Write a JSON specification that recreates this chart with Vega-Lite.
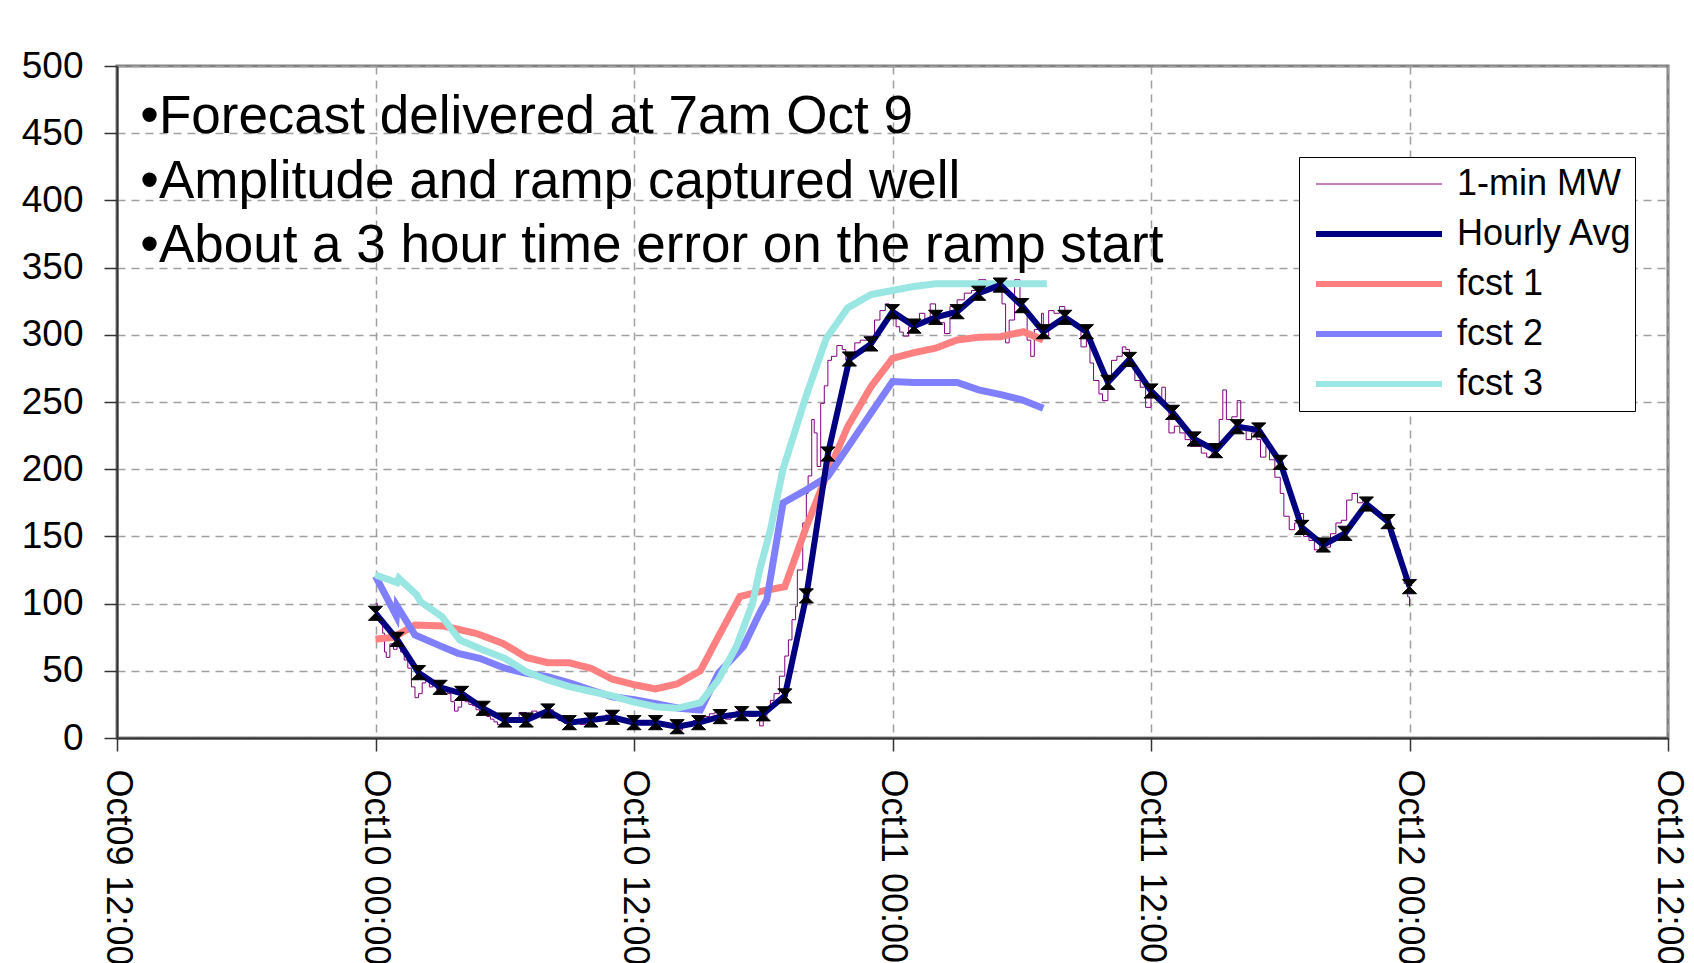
{
  "$schema": "https://vega.github.io/schema/vega-lite/v6.json",
  "autosize": {"type": "none"},
  "width": 1551,
  "height": 672,
  "padding": {"left": 117, "top": 66, "right": 26, "bottom": 225},
  "background": "white",
  "config": {
    "font": "Liberation Sans",
    "view": {"stroke": "#808080", "strokeWidth": 3},
    "axis": {
      "labelFont": "Liberation Sans",
      "labelColor": "black",
      "labelFontSize": 37,
      "labelLimit": 1000,
      "tickSize": 13,
      "tickColor": "#333333",
      "tickWidth": 1.5,
      "domainColor": "#333333",
      "domainWidth": 2,
      "grid": true,
      "gridDash": [8, 6],
      "gridColor": "#A0A0A0",
      "gridWidth": 1.5,
      "title": null
    },
    "legend": {"title": null}
  },
  "datasets": {
    "minute": [
      {"t": "2008-10-10T00:00Z", "v": 100}, {"t": "2008-10-10T00:05Z", "v": 92}, {"t": "2008-10-10T00:10Z", "v": 86},
      {"t": "2008-10-10T00:20Z", "v": 78}, {"t": "2008-10-10T00:25Z", "v": 64}, {"t": "2008-10-10T00:30Z", "v": 60},
      {"t": "2008-10-10T00:40Z", "v": 70}, {"t": "2008-10-10T00:50Z", "v": 66}, {"t": "2008-10-10T01:00Z", "v": 72},
      {"t": "2008-10-10T01:10Z", "v": 64}, {"t": "2008-10-10T01:20Z", "v": 58}, {"t": "2008-10-10T01:30Z", "v": 52},
      {"t": "2008-10-10T01:40Z", "v": 38}, {"t": "2008-10-10T01:50Z", "v": 30}, {"t": "2008-10-10T02:00Z", "v": 33},
      {"t": "2008-10-10T02:10Z", "v": 41}, {"t": "2008-10-10T02:20Z", "v": 44}, {"t": "2008-10-10T02:30Z", "v": 38},
      {"t": "2008-10-10T02:40Z", "v": 40}, {"t": "2008-10-10T02:50Z", "v": 36}, {"t": "2008-10-10T03:00Z", "v": 36},
      {"t": "2008-10-10T03:10Z", "v": 38}, {"t": "2008-10-10T03:20Z", "v": 33}, {"t": "2008-10-10T03:30Z", "v": 27},
      {"t": "2008-10-10T03:40Z", "v": 20}, {"t": "2008-10-10T03:50Z", "v": 23}, {"t": "2008-10-10T04:00Z", "v": 30},
      {"t": "2008-10-10T04:10Z", "v": 27}, {"t": "2008-10-10T04:20Z", "v": 25}, {"t": "2008-10-10T04:30Z", "v": 24},
      {"t": "2008-10-10T04:40Z", "v": 21}, {"t": "2008-10-10T04:50Z", "v": 17}, {"t": "2008-10-10T05:00Z", "v": 20},
      {"t": "2008-10-10T05:10Z", "v": 16}, {"t": "2008-10-10T05:20Z", "v": 14}, {"t": "2008-10-10T05:30Z", "v": 12},
      {"t": "2008-10-10T05:40Z", "v": 10}, {"t": "2008-10-10T05:50Z", "v": 11}, {"t": "2008-10-10T06:00Z", "v": 12},
      {"t": "2008-10-10T06:20Z", "v": 15}, {"t": "2008-10-10T06:40Z", "v": 19}, {"t": "2008-10-10T07:00Z", "v": 15},
      {"t": "2008-10-10T07:15Z", "v": 20}, {"t": "2008-10-10T07:30Z", "v": 18}, {"t": "2008-10-10T07:45Z", "v": 17},
      {"t": "2008-10-10T08:00Z", "v": 21}, {"t": "2008-10-10T08:15Z", "v": 16}, {"t": "2008-10-10T08:30Z", "v": 13},
      {"t": "2008-10-10T08:45Z", "v": 11}, {"t": "2008-10-10T09:00Z", "v": 10}, {"t": "2008-10-10T09:15Z", "v": 12},
      {"t": "2008-10-10T09:30Z", "v": 10}, {"t": "2008-10-10T09:45Z", "v": 12}, {"t": "2008-10-10T10:00Z", "v": 14},
      {"t": "2008-10-10T10:20Z", "v": 13}, {"t": "2008-10-10T10:40Z", "v": 17}, {"t": "2008-10-10T11:00Z", "v": 16},
      {"t": "2008-10-10T11:20Z", "v": 13}, {"t": "2008-10-10T11:40Z", "v": 12}, {"t": "2008-10-10T12:00Z", "v": 10},
      {"t": "2008-10-10T12:20Z", "v": 12}, {"t": "2008-10-10T12:40Z", "v": 11}, {"t": "2008-10-10T13:00Z", "v": 9},
      {"t": "2008-10-10T13:20Z", "v": 10}, {"t": "2008-10-10T13:40Z", "v": 8}, {"t": "2008-10-10T14:00Z", "v": 6},
      {"t": "2008-10-10T14:15Z", "v": 9}, {"t": "2008-10-10T14:30Z", "v": 11}, {"t": "2008-10-10T14:45Z", "v": 13},
      {"t": "2008-10-10T15:00Z", "v": 14}, {"t": "2008-10-10T15:15Z", "v": 16}, {"t": "2008-10-10T15:30Z", "v": 18},
      {"t": "2008-10-10T15:45Z", "v": 19}, {"t": "2008-10-10T16:00Z", "v": 16}, {"t": "2008-10-10T16:15Z", "v": 14},
      {"t": "2008-10-10T16:30Z", "v": 18}, {"t": "2008-10-10T16:45Z", "v": 20}, {"t": "2008-10-10T17:00Z", "v": 19},
      {"t": "2008-10-10T17:20Z", "v": 16}, {"t": "2008-10-10T17:40Z", "v": 18}, {"t": "2008-10-10T17:50Z", "v": 9},
      {"t": "2008-10-10T18:00Z", "v": 14}, {"t": "2008-10-10T18:10Z", "v": 22}, {"t": "2008-10-10T18:20Z", "v": 28},
      {"t": "2008-10-10T18:30Z", "v": 33}, {"t": "2008-10-10T18:45Z", "v": 46}, {"t": "2008-10-10T19:00Z", "v": 61},
      {"t": "2008-10-10T19:10Z", "v": 73}, {"t": "2008-10-10T19:20Z", "v": 88}, {"t": "2008-10-10T19:30Z", "v": 98},
      {"t": "2008-10-10T19:35Z", "v": 125}, {"t": "2008-10-10T19:50Z", "v": 160}, {"t": "2008-10-10T20:00Z", "v": 182},
      {"t": "2008-10-10T20:05Z", "v": 195}, {"t": "2008-10-10T20:15Z", "v": 237}, {"t": "2008-10-10T20:22Z", "v": 227},
      {"t": "2008-10-10T20:30Z", "v": 202}, {"t": "2008-10-10T20:40Z", "v": 249}, {"t": "2008-10-10T20:50Z", "v": 262},
      {"t": "2008-10-10T21:00Z", "v": 281}, {"t": "2008-10-10T21:10Z", "v": 284}, {"t": "2008-10-10T21:25Z", "v": 292},
      {"t": "2008-10-10T21:40Z", "v": 289}, {"t": "2008-10-10T21:50Z", "v": 281}, {"t": "2008-10-10T22:00Z", "v": 283},
      {"t": "2008-10-10T22:15Z", "v": 294}, {"t": "2008-10-10T22:30Z", "v": 296}, {"t": "2008-10-10T22:50Z", "v": 299},
      {"t": "2008-10-10T23:10Z", "v": 311}, {"t": "2008-10-10T23:25Z", "v": 318}, {"t": "2008-10-10T23:40Z", "v": 323},
      {"t": "2008-10-10T23:50Z", "v": 321}, {"t": "2008-10-11T00:00Z", "v": 312}, {"t": "2008-10-11T00:10Z", "v": 306},
      {"t": "2008-10-11T00:20Z", "v": 302}, {"t": "2008-10-11T00:30Z", "v": 299}, {"t": "2008-10-11T00:45Z", "v": 306},
      {"t": "2008-10-11T01:00Z", "v": 310}, {"t": "2008-10-11T01:15Z", "v": 316}, {"t": "2008-10-11T01:30Z", "v": 311},
      {"t": "2008-10-11T01:45Z", "v": 323}, {"t": "2008-10-11T02:00Z", "v": 314}, {"t": "2008-10-11T02:10Z", "v": 309},
      {"t": "2008-10-11T02:25Z", "v": 301}, {"t": "2008-10-11T02:40Z", "v": 321}, {"t": "2008-10-11T03:00Z", "v": 326},
      {"t": "2008-10-11T03:20Z", "v": 331}, {"t": "2008-10-11T03:40Z", "v": 333}, {"t": "2008-10-11T04:00Z", "v": 341},
      {"t": "2008-10-11T04:20Z", "v": 338}, {"t": "2008-10-11T04:35Z", "v": 336}, {"t": "2008-10-11T04:55Z", "v": 338},
      {"t": "2008-10-11T05:05Z", "v": 323}, {"t": "2008-10-11T05:15Z", "v": 294}, {"t": "2008-10-11T05:25Z", "v": 311},
      {"t": "2008-10-11T05:40Z", "v": 341}, {"t": "2008-10-11T05:55Z", "v": 318}, {"t": "2008-10-11T06:15Z", "v": 296},
      {"t": "2008-10-11T06:25Z", "v": 284}, {"t": "2008-10-11T06:35Z", "v": 304}, {"t": "2008-10-11T06:55Z", "v": 316},
      {"t": "2008-10-11T07:00Z", "v": 299}, {"t": "2008-10-11T07:15Z", "v": 318}, {"t": "2008-10-11T07:30Z", "v": 316},
      {"t": "2008-10-11T07:45Z", "v": 321}, {"t": "2008-10-11T08:00Z", "v": 312}, {"t": "2008-10-11T08:15Z", "v": 308},
      {"t": "2008-10-11T08:30Z", "v": 306}, {"t": "2008-10-11T08:45Z", "v": 291}, {"t": "2008-10-11T09:00Z", "v": 299},
      {"t": "2008-10-11T09:10Z", "v": 279}, {"t": "2008-10-11T09:20Z", "v": 266}, {"t": "2008-10-11T09:35Z", "v": 256},
      {"t": "2008-10-11T09:45Z", "v": 251}, {"t": "2008-10-11T10:00Z", "v": 269}, {"t": "2008-10-11T10:10Z", "v": 281},
      {"t": "2008-10-11T10:25Z", "v": 284}, {"t": "2008-10-11T10:40Z", "v": 291}, {"t": "2008-10-11T10:50Z", "v": 289},
      {"t": "2008-10-11T11:00Z", "v": 279}, {"t": "2008-10-11T11:15Z", "v": 266}, {"t": "2008-10-11T11:30Z", "v": 261},
      {"t": "2008-10-11T11:45Z", "v": 246}, {"t": "2008-10-11T12:00Z", "v": 256}, {"t": "2008-10-11T12:15Z", "v": 251},
      {"t": "2008-10-11T12:30Z", "v": 261}, {"t": "2008-10-11T12:40Z", "v": 246}, {"t": "2008-10-11T12:50Z", "v": 227},
      {"t": "2008-10-11T13:05Z", "v": 232}, {"t": "2008-10-11T13:20Z", "v": 227}, {"t": "2008-10-11T13:35Z", "v": 222},
      {"t": "2008-10-11T13:50Z", "v": 217}, {"t": "2008-10-11T14:05Z", "v": 217}, {"t": "2008-10-11T14:20Z", "v": 212},
      {"t": "2008-10-11T14:35Z", "v": 209}, {"t": "2008-10-11T14:50Z", "v": 214}, {"t": "2008-10-11T15:00Z", "v": 217},
      {"t": "2008-10-11T15:10Z", "v": 237}, {"t": "2008-10-11T15:20Z", "v": 259}, {"t": "2008-10-11T15:30Z", "v": 237},
      {"t": "2008-10-11T15:45Z", "v": 239}, {"t": "2008-10-11T16:00Z", "v": 251}, {"t": "2008-10-11T16:10Z", "v": 232},
      {"t": "2008-10-11T16:25Z", "v": 222}, {"t": "2008-10-11T16:40Z", "v": 227}, {"t": "2008-10-11T16:55Z", "v": 222},
      {"t": "2008-10-11T17:05Z", "v": 209}, {"t": "2008-10-11T17:20Z", "v": 217}, {"t": "2008-10-11T17:30Z", "v": 207},
      {"t": "2008-10-11T17:45Z", "v": 194}, {"t": "2008-10-11T18:00Z", "v": 182}, {"t": "2008-10-11T18:10Z", "v": 165},
      {"t": "2008-10-11T18:25Z", "v": 155}, {"t": "2008-10-11T18:40Z", "v": 160}, {"t": "2008-10-11T18:55Z", "v": 167},
      {"t": "2008-10-11T19:05Z", "v": 150}, {"t": "2008-10-11T19:20Z", "v": 147}, {"t": "2008-10-11T19:35Z", "v": 140},
      {"t": "2008-10-11T19:50Z", "v": 145}, {"t": "2008-10-11T20:05Z", "v": 142}, {"t": "2008-10-11T20:20Z", "v": 152},
      {"t": "2008-10-11T20:35Z", "v": 160}, {"t": "2008-10-11T20:50Z", "v": 162}, {"t": "2008-10-11T21:05Z", "v": 177},
      {"t": "2008-10-11T21:20Z", "v": 182}, {"t": "2008-10-11T21:35Z", "v": 175}, {"t": "2008-10-11T21:50Z", "v": 177},
      {"t": "2008-10-11T22:05Z", "v": 172}, {"t": "2008-10-11T22:20Z", "v": 167}, {"t": "2008-10-11T22:35Z", "v": 165},
      {"t": "2008-10-11T22:50Z", "v": 162}, {"t": "2008-10-11T23:05Z", "v": 150}, {"t": "2008-10-11T23:20Z", "v": 140},
      {"t": "2008-10-11T23:35Z", "v": 128}, {"t": "2008-10-11T23:45Z", "v": 115}, {"t": "2008-10-11T23:55Z", "v": 105},
      {"t": "2008-10-12T00:00Z", "v": 98}
    ],
    "hourly": [
      {"t": "2008-10-10T00:00Z", "v": 92.8}, {"t": "2008-10-10T01:00Z", "v": 73.4}, {"t": "2008-10-10T02:00Z", "v": 48.6},
      {"t": "2008-10-10T03:00Z", "v": 37.7}, {"t": "2008-10-10T04:00Z", "v": 33.2}, {"t": "2008-10-10T05:00Z", "v": 22.1},
      {"t": "2008-10-10T06:00Z", "v": 13.4}, {"t": "2008-10-10T07:00Z", "v": 13.4}, {"t": "2008-10-10T08:00Z", "v": 20.1},
      {"t": "2008-10-10T09:00Z", "v": 11.4}, {"t": "2008-10-10T10:00Z", "v": 13.4}, {"t": "2008-10-10T11:00Z", "v": 15.4},
      {"t": "2008-10-10T12:00Z", "v": 11.4}, {"t": "2008-10-10T13:00Z", "v": 11.4}, {"t": "2008-10-10T14:00Z", "v": 8.4},
      {"t": "2008-10-10T15:00Z", "v": 11.4}, {"t": "2008-10-10T16:00Z", "v": 15.9}, {"t": "2008-10-10T17:00Z", "v": 18.1},
      {"t": "2008-10-10T18:00Z", "v": 18}, {"t": "2008-10-10T19:00Z", "v": 31.3}, {"t": "2008-10-10T20:00Z", "v": 105.7},
      {"t": "2008-10-10T21:00Z", "v": 211.3}, {"t": "2008-10-10T22:00Z", "v": 282}, {"t": "2008-10-10T23:00Z", "v": 293.2},
      {"t": "2008-10-11T00:00Z", "v": 317.2}, {"t": "2008-10-11T01:00Z", "v": 306.5}, {"t": "2008-10-11T02:00Z", "v": 313},
      {"t": "2008-10-11T03:00Z", "v": 317.2}, {"t": "2008-10-11T04:00Z", "v": 330.9}, {"t": "2008-10-11T05:00Z", "v": 337},
      {"t": "2008-10-11T06:00Z", "v": 321.7}, {"t": "2008-10-11T07:00Z", "v": 302.3}, {"t": "2008-10-11T08:00Z", "v": 313},
      {"t": "2008-10-11T09:00Z", "v": 302.3}, {"t": "2008-10-11T10:00Z", "v": 264.6}, {"t": "2008-10-11T11:00Z", "v": 281.7},
      {"t": "2008-10-11T12:00Z", "v": 258.2}, {"t": "2008-10-11T13:00Z", "v": 242.3}, {"t": "2008-10-11T14:00Z", "v": 222.5},
      {"t": "2008-10-11T15:00Z", "v": 213.8}, {"t": "2008-10-11T16:00Z", "v": 231.6}, {"t": "2008-10-11T17:00Z", "v": 229.2},
      {"t": "2008-10-11T18:00Z", "v": 205.1}, {"t": "2008-10-11T19:00Z", "v": 156.7}, {"t": "2008-10-11T20:00Z", "v": 143.6},
      {"t": "2008-10-11T21:00Z", "v": 152.3}, {"t": "2008-10-11T22:00Z", "v": 174.1}, {"t": "2008-10-11T23:00Z", "v": 161},
      {"t": "2008-10-12T00:00Z", "v": 112.6}
    ],
    "fcst": [
      {"s": "fcst 1", "t": "2008-10-10T00:00Z", "v": 73.4}, {"s": "fcst 1", "t": "2008-10-10T00:50Z", "v": 74.9},
      {"s": "fcst 1", "t": "2008-10-10T01:50Z", "v": 84}, {"s": "fcst 1", "t": "2008-10-10T03:10Z", "v": 83.3},
      {"s": "fcst 1", "t": "2008-10-10T04:40Z", "v": 77.9}, {"s": "fcst 1", "t": "2008-10-10T05:55Z", "v": 70.4},
      {"s": "fcst 1", "t": "2008-10-10T07:00Z", "v": 60}, {"s": "fcst 1", "t": "2008-10-10T08:00Z", "v": 56},
      {"s": "fcst 1", "t": "2008-10-10T09:00Z", "v": 56}, {"s": "fcst 1", "t": "2008-10-10T10:00Z", "v": 51.9},
      {"s": "fcst 1", "t": "2008-10-10T11:00Z", "v": 43.7}, {"s": "fcst 1", "t": "2008-10-10T12:05Z", "v": 39.4},
      {"s": "fcst 1", "t": "2008-10-10T13:00Z", "v": 36.5}, {"s": "fcst 1", "t": "2008-10-10T14:00Z", "v": 40.2},
      {"s": "fcst 1", "t": "2008-10-10T15:05Z", "v": 50.1}, {"s": "fcst 1", "t": "2008-10-10T15:55Z", "v": 75.4},
      {"s": "fcst 1", "t": "2008-10-10T16:55Z", "v": 105.2}, {"s": "fcst 1", "t": "2008-10-10T17:50Z", "v": 108.9},
      {"s": "fcst 1", "t": "2008-10-10T19:00Z", "v": 112.6}, {"s": "fcst 1", "t": "2008-10-10T20:00Z", "v": 157.2},
      {"s": "fcst 1", "t": "2008-10-10T20:55Z", "v": 194.4}, {"s": "fcst 1", "t": "2008-10-10T21:55Z", "v": 231.6},
      {"s": "fcst 1", "t": "2008-10-10T23:00Z", "v": 261.4}, {"s": "fcst 1", "t": "2008-10-11T00:00Z", "v": 282.5},
      {"s": "fcst 1", "t": "2008-10-11T01:00Z", "v": 286.7}, {"s": "fcst 1", "t": "2008-10-11T02:00Z", "v": 290},
      {"s": "fcst 1", "t": "2008-10-11T03:00Z", "v": 296.1}, {"s": "fcst 1", "t": "2008-10-11T04:00Z", "v": 298.1},
      {"s": "fcst 1", "t": "2008-10-11T05:00Z", "v": 298.6}, {"s": "fcst 1", "t": "2008-10-11T06:05Z", "v": 302.3},
      {"s": "fcst 1", "t": "2008-10-11T07:00Z", "v": 296.1},
      {"s": "fcst 2", "t": "2008-10-10T00:00Z", "v": 120.5}, {"s": "fcst 2", "t": "2008-10-10T00:58Z", "v": 90.8},
      {"s": "fcst 2", "t": "2008-10-10T01:00Z", "v": 98.2}, {"s": "fcst 2", "t": "2008-10-10T01:50Z", "v": 76.6},
      {"s": "fcst 2", "t": "2008-10-10T03:05Z", "v": 68}, {"s": "fcst 2", "t": "2008-10-10T03:50Z", "v": 63},
      {"s": "fcst 2", "t": "2008-10-10T04:50Z", "v": 59.3}, {"s": "fcst 2", "t": "2008-10-10T06:00Z", "v": 51.9},
      {"s": "fcst 2", "t": "2008-10-10T07:00Z", "v": 48.1}, {"s": "fcst 2", "t": "2008-10-10T08:00Z", "v": 45.6},
      {"s": "fcst 2", "t": "2008-10-10T09:05Z", "v": 40.7}, {"s": "fcst 2", "t": "2008-10-10T10:00Z", "v": 35.7},
      {"s": "fcst 2", "t": "2008-10-10T11:00Z", "v": 30.7}, {"s": "fcst 2", "t": "2008-10-10T12:05Z", "v": 28.3},
      {"s": "fcst 2", "t": "2008-10-10T13:05Z", "v": 25.3}, {"s": "fcst 2", "t": "2008-10-10T14:05Z", "v": 22.1},
      {"s": "fcst 2", "t": "2008-10-10T15:05Z", "v": 20.8}, {"s": "fcst 2", "t": "2008-10-10T15:55Z", "v": 48.1},
      {"s": "fcst 2", "t": "2008-10-10T17:05Z", "v": 68}, {"s": "fcst 2", "t": "2008-10-10T17:50Z", "v": 93},
      {"s": "fcst 2", "t": "2008-10-10T18:10Z", "v": 103}, {"s": "fcst 2", "t": "2008-10-10T18:55Z", "v": 174.8},
      {"s": "fcst 2", "t": "2008-10-10T20:00Z", "v": 184.7}, {"s": "fcst 2", "t": "2008-10-10T21:00Z", "v": 194.6},
      {"s": "fcst 2", "t": "2008-10-10T22:00Z", "v": 218.1}, {"s": "fcst 2", "t": "2008-10-10T23:00Z", "v": 241.7},
      {"s": "fcst 2", "t": "2008-10-11T00:00Z", "v": 265.2}, {"s": "fcst 2", "t": "2008-10-11T01:00Z", "v": 264.5},
      {"s": "fcst 2", "t": "2008-10-11T03:00Z", "v": 264.5}, {"s": "fcst 2", "t": "2008-10-11T04:00Z", "v": 259},
      {"s": "fcst 2", "t": "2008-10-11T05:05Z", "v": 255.3}, {"s": "fcst 2", "t": "2008-10-11T06:00Z", "v": 251.6},
      {"s": "fcst 2", "t": "2008-10-11T07:00Z", "v": 245.4},
      {"s": "fcst 3", "t": "2008-10-10T00:00Z", "v": 121.3}, {"s": "fcst 3", "t": "2008-10-10T01:00Z", "v": 115.6},
      {"s": "fcst 3", "t": "2008-10-10T01:05Z", "v": 118.8}, {"s": "fcst 3", "t": "2008-10-10T01:55Z", "v": 106.4},
      {"s": "fcst 3", "t": "2008-10-10T02:05Z", "v": 101.4}, {"s": "fcst 3", "t": "2008-10-10T03:05Z", "v": 90.3},
      {"s": "fcst 3", "t": "2008-10-10T03:55Z", "v": 72.9}, {"s": "fcst 3", "t": "2008-10-10T05:00Z", "v": 65.5},
      {"s": "fcst 3", "t": "2008-10-10T06:00Z", "v": 59.3}, {"s": "fcst 3", "t": "2008-10-10T07:00Z", "v": 49.3},
      {"s": "fcst 3", "t": "2008-10-10T08:00Z", "v": 43.2}, {"s": "fcst 3", "t": "2008-10-10T09:00Z", "v": 38.2},
      {"s": "fcst 3", "t": "2008-10-10T10:05Z", "v": 34.4}, {"s": "fcst 3", "t": "2008-10-10T11:00Z", "v": 31.3},
      {"s": "fcst 3", "t": "2008-10-10T11:55Z", "v": 27}, {"s": "fcst 3", "t": "2008-10-10T13:00Z", "v": 23.3},
      {"s": "fcst 3", "t": "2008-10-10T14:00Z", "v": 22.1}, {"s": "fcst 3", "t": "2008-10-10T15:05Z", "v": 26.3},
      {"s": "fcst 3", "t": "2008-10-10T15:55Z", "v": 43.2}, {"s": "fcst 3", "t": "2008-10-10T16:45Z", "v": 68},
      {"s": "fcst 3", "t": "2008-10-10T17:30Z", "v": 100}, {"s": "fcst 3", "t": "2008-10-10T17:50Z", "v": 125},
      {"s": "fcst 3", "t": "2008-10-10T18:20Z", "v": 155}, {"s": "fcst 3", "t": "2008-10-10T18:55Z", "v": 200},
      {"s": "fcst 3", "t": "2008-10-10T20:00Z", "v": 255}, {"s": "fcst 3", "t": "2008-10-10T20:55Z", "v": 297},
      {"s": "fcst 3", "t": "2008-10-10T21:55Z", "v": 320}, {"s": "fcst 3", "t": "2008-10-10T23:00Z", "v": 330},
      {"s": "fcst 3", "t": "2008-10-11T00:00Z", "v": 333}, {"s": "fcst 3", "t": "2008-10-11T01:00Z", "v": 336},
      {"s": "fcst 3", "t": "2008-10-11T02:00Z", "v": 338}, {"s": "fcst 3", "t": "2008-10-11T07:10Z", "v": 338}
    ],
    "notes": [
      {"t": "2008-10-09T13:05Z", "v": 450, "label": "•Forecast delivered at 7am Oct 9"},
      {"t": "2008-10-09T13:05Z", "v": 402, "label": "•Amplitude and ramp captured well"},
      {"t": "2008-10-09T13:05Z", "v": 354, "label": "•About a 3 hour time error on the ramp start"}
    ]
  },
  "encoding": {
    "x": {
      "field": "t",
      "type": "temporal",
      "scale": {"type": "utc", "domain": [{"year": 2008, "month": 10, "date": 9, "hours": 12, "utc": true}, {"year": 2008, "month": 10, "date": 12, "hours": 12, "utc": true}]},
      "axis": {
        "values": [
          {"year": 2008, "month": 10, "date": 9, "hours": 12, "utc": true},
          {"year": 2008, "month": 10, "date": 10, "hours": 0, "utc": true},
          {"year": 2008, "month": 10, "date": 10, "hours": 12, "utc": true},
          {"year": 2008, "month": 10, "date": 11, "hours": 0, "utc": true},
          {"year": 2008, "month": 10, "date": 11, "hours": 12, "utc": true},
          {"year": 2008, "month": 10, "date": 12, "hours": 0, "utc": true},
          {"year": 2008, "month": 10, "date": 12, "hours": 12, "utc": true}
        ],
        "format": "%b%d %H:%M",
        "labelAngle": 90,
        "labelFontSize": 36,
        "labelPadding": 18,
        "labelFlush": false,
        "labelOverlap": false,
        "labelBound": false,
        "labelLimit": 1000
      }
    },
    "y": {
      "field": "v",
      "type": "quantitative",
      "scale": {"domain": [0, 500], "nice": false, "zero": true},
      "axis": {"values": [0, 50, 100, 150, 200, 250, 300, 350, 400, 450, 500], "labelPadding": 21}
    }
  },
  "layer": [
    {
      "data": {"name": "minute"},
      "mark": {"type": "line", "interpolate": "step-after", "strokeWidth": 1},
      "encoding": {
        "color": {
          "datum": "1-min MW",
          "type": "nominal",
          "title": null,
          "scale": {"domain": ["1-min MW", "Hourly Avg", "fcst 1", "fcst 2", "fcst 3"], "range": ["#800080", "#000080", "#FF8080", "#8080FF", "#99E6E3"]},
          "legend": {
            "title": null,
            "orient": "none",
            "legendX": 1182,
            "legendY": 91,
            "strokeColor": "#000000",
            "fillColor": "#FFFFFF",
            "padding": 2,
            "symbolType": "stroke",
            "symbolSize": 15876,
            "symbolStrokeWidth": 6,
            "symbolOffset": 60,
            "labelOffset": 60,
            "clipHeight": 50,
            "rowPadding": 0,
            "labelFontSize": 36,
            "labelFont": "Liberation Sans",
            "labelColor": "black",
            "labelLimit": 400,
            "encode": {
              "symbols": {"update": {"strokeWidth": {"signal": "datum.value === '1-min MW' ? 1 : 6"}}}
            }
          }
        }
      }
    },
    {
      "data": {"name": "fcst"},
      "mark": {"type": "line", "strokeWidth": 7},
      "encoding": {"color": {"field": "s", "type": "nominal", "title": null}}
    },
    {
      "data": {"name": "hourly"},
      "mark": {"type": "line", "strokeWidth": 6},
      "encoding": {"color": {"datum": "Hourly Avg", "type": "nominal", "title": null}}
    },
    {
      "data": {"name": "hourly"},
      "mark": {"type": "point", "shape": "M-1,-1L1,-1L-1,1L1,1Z", "filled": true, "color": "#000000", "stroke": "#000000", "strokeWidth": 1, "size": 200, "opacity": 1}
    },
    {
      "data": {"name": "notes"},
      "mark": {"type": "text", "align": "left", "baseline": "alphabetic", "fontSize": 53, "font": "Liberation Sans", "color": "#000000"},
      "encoding": {"text": {"field": "label", "type": "nominal"}}
    }
  ]
}
